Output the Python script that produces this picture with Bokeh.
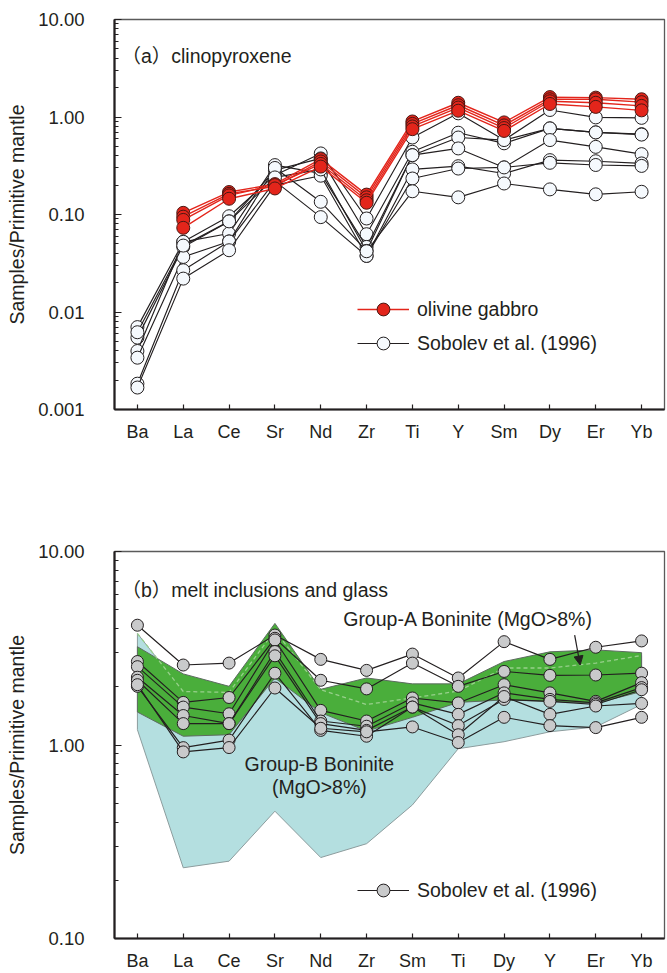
from bokeh.plotting import figure
from bokeh.layouts import column
from bokeh.models import (Range1d, FixedTicker, CustomJSTickFormatter, Legend,
                          LegendItem, Label, Arrow, NormalHead)
from bokeh.embed import file_html
from bokeh.resources import INLINE
import math

FONT = "Liberation Sans, Noto Sans CJK SC"
INK = "#231f20"

# ---------------- (a) clinopyroxene ----------------
elements_a = ["Ba", "La", "Ce", "Sr", "Nd", "Zr", "Ti", "Y", "Sm", "Dy", "Er", "Yb"]

# olivine gabbro clinopyroxene (no Ba analysed)
gabbro_1 = [None, 0.104, 0.170, 0.205, 0.37, 0.160, 0.90, 1.40, 0.88, 1.60, 1.58, 1.52]
gabbro_2 = [None, 0.095, 0.163, 0.195, 0.35, 0.150, 0.85, 1.32, 0.82, 1.52, 1.52, 1.42]
gabbro_3 = [None, 0.088, 0.157, 0.200, 0.33, 0.140, 0.80, 1.25, 0.77, 1.45, 1.40, 1.30]
gabbro_4 = [None, 0.073, 0.145, 0.185, 0.31, 0.132, 0.75, 1.16, 0.72, 1.36, 1.27, 1.17]

# Sobolev et al. (1996) clinopyroxene
sob_cpx_1 = [0.0070, 0.0524, 0.096, 0.253, 0.423, 0.091, 0.616, 1.09, 0.58, 1.18, 0.99, 0.98]
sob_cpx_2 = [0.00546, 0.0465, 0.085, 0.285, 0.376, 0.0628, 0.44, 0.69, 0.537, 0.764, 0.695, 0.667]
sob_cpx_3 = [0.00398, 0.0524, 0.0638, 0.321, 0.264, 0.0465, 0.406, 0.616, 0.58, 0.764, 0.695, 0.660]
sob_cpx_4 = [0.0034, 0.0367, 0.0529, 0.30, 0.135, 0.0423, 0.406, 0.476, 0.304, 0.58, 0.494, 0.416]
sob_cpx_5 = [0.00184, 0.0268, 0.0529, 0.22, 0.094, 0.0376, 0.29, 0.313, 0.263, 0.361, 0.352, 0.334]
sob_cpx_6 = [0.00168, 0.022, 0.043, 0.20, 0.25, 0.0376, 0.234, 0.296, 0.304, 0.339, 0.322, 0.315]
sob_cpx_7 = [0.0062, 0.048, 0.085, 0.24, 0.29, 0.042, 0.173, 0.150, 0.208, 0.181, 0.161, 0.171]

# ---------------- (b) melt inclusions and glass ----------------
elements_b = ["Ba", "La", "Ce", "Sr", "Nd", "Zr", "Sm", "Ti", "Dy", "Y", "Er", "Yb"]

sob_melt_1 = [4.16, 2.59, 2.65, 3.70, 2.77, 2.43, 2.95, 2.22, 3.42, 2.77, 3.20, 3.45]
sob_melt_2 = [2.70, 1.66, 1.76, 3.56, 2.16, 1.95, 2.65, 2.01, 2.40, 2.29, 2.30, 2.35]
sob_melt_3 = [2.54, 1.57, 1.45, 3.49, 1.51, 1.33, 1.75, 1.65, 2.05, 1.86, 1.68, 2.10]
sob_melt_4 = [2.24, 1.42, 1.29, 3.04, 1.33, 1.25, 1.65, 1.44, 1.86, 1.72, 1.65, 1.98]
sob_melt_5 = [2.16, 1.29, 1.29, 2.89, 1.29, 1.19, 1.57, 1.26, 1.72, 1.68, 1.62, 1.93]
sob_melt_6 = [2.01, 0.969, 1.06, 2.35, 1.19, 1.11, 1.57, 1.13, 1.78, 1.44, 1.59, 1.64]
sob_melt_7 = [2.05, 0.921, 0.97, 1.97, 1.22, 1.17, 1.24, 1.03, 1.39, 1.26, 1.23, 1.39]

# Group-A boninite field (MgO>8%)
group_a_upper = [3.22, 2.33, 2.01, 4.25, 1.94, 2.22, 2.07, 2.07, 2.70, 3.03, 3.10, 3.00]
group_a_lower = [1.48, 1.11, 1.13, 2.22, 1.47, 1.18, 1.39, 1.66, 1.71, 1.68, 1.64, 1.89]

# Group-B boninite field (MgO>8%)
group_b_upper = [3.77, 1.89, 1.87, 3.90, 1.93, 1.62, 1.75, 1.90, 2.50, 2.50, 2.65, 2.90]
group_b_lower = [1.20, 0.232, 0.251, 0.455, 0.262, 0.309, 0.49, 0.957, 1.04, 1.17, 1.24, 1.62]


def make_panel(height, y_lo, y_hi, cats, top, bottom):
    p = figure(width=667, height=height,
               x_range=Range1d(-0.5, len(cats) - 0.5),
               y_range=Range1d(y_lo, y_hi), y_axis_type="log",
               output_backend="svg", toolbar_location=None,
               min_border_left=114, min_border_right=3,
               min_border_top=top, min_border_bottom=bottom,
               background_fill_color="white", border_fill_color="white")
    p.xgrid.visible = False
    p.ygrid.visible = False
    p.outline_line_color = "#5a5a5a"
    p.outline_line_width = 1.3

    # element names on integer positions
    p.xaxis.ticker = FixedTicker(ticks=list(range(len(cats))))
    p.xaxis.formatter = CustomJSTickFormatter(
        args=dict(cats=cats), code="return cats[Math.round(tick)] || '';")
    p.xaxis.major_tick_in = 5
    p.xaxis.major_tick_out = 0
    p.xaxis.major_label_standoff = 12

    # decade ticks with log minor ticks
    k0, k1 = round(math.log10(y_lo)), round(math.log10(y_hi))
    majors = [10.0 ** k for k in range(k0, k1 + 1)]
    minors = [m * 10.0 ** k for k in range(k0, k1) for m in range(2, 10)]
    p.yaxis.ticker = FixedTicker(ticks=majors, minor_ticks=minors)
    p.yaxis.formatter = CustomJSTickFormatter(
        code="return tick < 0.005 ? tick.toFixed(3) : tick.toFixed(2);")
    p.yaxis.major_tick_in = 7
    p.yaxis.major_tick_out = 0
    p.yaxis.minor_tick_in = 4
    p.yaxis.minor_tick_out = 0
    p.yaxis.major_label_standoff = 30
    p.yaxis.axis_label = "Samples/Primitive mantle"
    p.yaxis.axis_label_standoff = 7
    p.yaxis.axis_label_text_font_style = "normal"
    p.yaxis.axis_label_text_font_size = "19.5px"
    p.yaxis.axis_label_text_font = FONT
    p.yaxis.axis_label_text_color = INK

    for ax in (p.xaxis, p.yaxis):
        ax.axis_line_color = INK
        ax.axis_line_width = 2.2
        ax.major_tick_line_color = INK
        ax.major_tick_line_width = 1.2
        ax.minor_tick_line_color = INK
        ax.minor_tick_line_width = 1.1
        ax.major_label_text_font = FONT
        ax.major_label_text_color = INK
    p.xaxis.major_label_text_font_size = "18px"
    p.yaxis.major_label_text_font_size = "18.5px"
    return p


def draw_series(p, values, line_color, fill_color, edge_color, size, lw):
    pts = [(i, v) for i, v in enumerate(values) if v is not None]
    xs = [i for i, _ in pts]
    ys = [v for _, v in pts]
    r_line = p.line(xs, ys, line_color=line_color, line_width=lw)
    r_pts = p.scatter(xs, ys, marker="circle", size=size, fill_color=fill_color,
                      line_color=edge_color, line_width=1)
    return r_line, r_pts


def legend_for(p, items, y_off):
    leg = Legend(items=items, location=(243, y_off), glyph_width=52, glyph_height=32,
                 label_height=20, spacing=2, label_standoff=8, padding=0, margin=0,
                 border_line_color=None, background_fill_alpha=0,
                 label_text_font=FONT, label_text_font_size="19.5px",
                 label_text_color=INK)
    p.add_layout(leg)


def note(p, x, y, text, align="left"):
    p.add_layout(Label(x=x, y=y, text=text, text_font=FONT, text_font_size="19.5px",
                       text_color=INK, text_align=align, text_baseline="alphabetic"))


# ---------- panel (a) ----------
pa = make_panel(490, 0.001, 10, elements_a, 19, 81)

cpx_rs = None
for vals in [sob_cpx_1, sob_cpx_2, sob_cpx_3, sob_cpx_4, sob_cpx_5, sob_cpx_6, sob_cpx_7]:
    rs = draw_series(pa, vals, INK, "#f5f9fd", INK, 13, 1.15)
    cpx_rs = cpx_rs or rs
gab_rs = None
for vals in [gabbro_1, gabbro_2, gabbro_3, gabbro_4]:
    rs = draw_series(pa, vals, "#e3251b", "#e3251b", "#4a1712", 13, 1.4)
    gab_rs = gab_rs or rs

legend_for(pa, [LegendItem(label="olivine gabbro", renderers=list(gab_rs)),
                LegendItem(label="Sobolev et al. (1996)", renderers=list(cpx_rs))], 50)

note(pa, -0.35, 4.19, "（a）clinopyroxene")

# ---------- panel (b) ----------
pb = make_panel(483, 0.1, 10, elements_b, 61, 34)
xb = list(range(len(elements_b)))

pb.patch(xb + xb[::-1], group_b_upper + group_b_lower[::-1],
         fill_color="#b4dfe0", line_color="#8c9c9d", line_width=1)
pb.patch(xb + xb[::-1], group_a_upper + group_a_lower[::-1],
         fill_color="#4aae3b", line_color="#5d6b60", line_width=1)
# Group-B upper limit seen through the Group-A field
pb.line(xb, group_b_upper, line_color="#98d08c", line_width=1.3, line_dash="4 3")

melt_rs = None
for vals in [sob_melt_1, sob_melt_2, sob_melt_3, sob_melt_4, sob_melt_5, sob_melt_6, sob_melt_7]:
    rs = draw_series(pb, vals, INK, "#c9cacb", INK, 12, 1.15)
    melt_rs = melt_rs or rs

legend_for(pb, [LegendItem(label="Sobolev et al. (1996)", renderers=list(melt_rs))], 32)

note(pb, -0.35, 6.31, "（b）melt inclusions and glass")
note(pb, 4.49, 4.47, "Group-A Boninite (MgO>8%)")
note(pb, 3.97, 0.80, "Group-B Boninite", "center")
note(pb, 3.97, 0.607, "(MgO>8%)", "center")
pb.add_layout(Arrow(end=NormalHead(size=9, fill_color=INK, line_color=INK),
                    x_start=9.54, y_start=3.70, x_end=9.66, y_end=2.59,
                    line_color=INK, line_width=1.2))

layout = column(pa, pb, spacing=0)
open("out.html", "w").write(file_html(layout, INLINE))
